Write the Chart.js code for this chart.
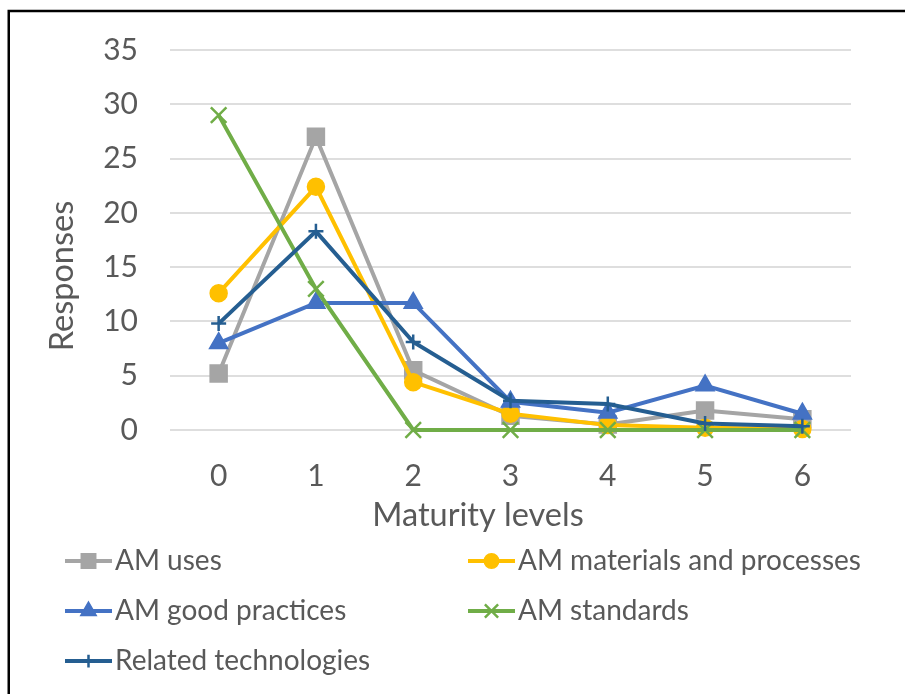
<!DOCTYPE html>
<html>
<head>
<meta charset="utf-8">
<script src="https://cdn.jsdelivr.net/npm/chart.js@4.4.1/dist/chart.umd.min.js"></script>
<style>
  html, body { margin: 0; padding: 0; background: #ffffff; }
  canvas { display: block; }
</style>
</head>
<body>
<canvas id="chart" width="905" height="694"></canvas>
<script>
// Maturity levels on the x axis
const maturityLevels = ['0', '1', '2', '3', '4', '5', '6'];

// Responses per maturity level, one array per topic
const amUses          = [5.2, 27.0, 5.5, 1.3, 0.5, 1.8, 1.0];
const amMaterials     = [12.6, 22.4, 4.4, 1.5, 0.45, 0.2, 0.1];
const amGoodPractices = [8.0, 11.7, 11.7, 2.6, 1.6, 4.1, 1.5];
const amStandards     = [29.0, 13.0, 0, 0, 0, 0, 0];
const relatedTech     = [9.8, 18.3, 8.1, 2.7, 2.4, 0.6, 0.35];

const seriesNames = ['AM uses', 'AM materials and processes', 'AM good practices', 'AM standards', 'Related technologies'];

// Response axis range
const yMin = 0;
const yMax = 35;
const yStep = 5;

const xAxisTitle = 'Maturity levels';
const yAxisTitle = 'Responses';

const FONT = 'Lato';
const TEXT = '#595959';

const seriesStyle = [
  { color: '#A5A5A5', pointStyle: 'rect',     radius: 12,   pbw: 1.5 },
  { color: '#FFC000', pointStyle: 'circle',   radius: 8.5,  pbw: 1.5 },
  { color: '#4472C4', pointStyle: 'triangle', radius: 10.5, pbw: 1.5 },
  { color: '#70AD47', pointStyle: 'crossRot', radius: 11,   pbw: 2.5 },
  { color: '#255E91', pointStyle: 'cross',    radius: 7.5,  pbw: 2.5 }
];
const seriesValues = [amUses, amMaterials, amGoodPractices, amStandards, relatedTech];

const datasets = seriesValues.map((values, i) => {
  const s = seriesStyle[i];
  return {
    label: seriesNames[i],
    data: values,
    borderColor: s.color,
    backgroundColor: s.color,
    borderWidth: 4,
    tension: 0,
    clip: false,
    pointStyle: s.pointStyle,
    pointRadius: s.radius,
    pointHoverRadius: s.radius,
    pointBackgroundColor: s.color,
    pointBorderColor: s.color,
    pointBorderWidth: s.pbw,
    // later series are painted over earlier ones
    order: seriesValues.length - i
  };
});

// Axis titles, the two-column legend below the axis, and the frame on the top and left edges
const legendAndFrame = {
  id: 'legendAndFrame',
  afterDraw(chart, args, opts) {
    const ctx = chart.ctx;
    ctx.save();
    // frame
    ctx.strokeStyle = '#000000';
    ctx.lineWidth = 2.5;
    ctx.beginPath();
    ctx.moveTo(8.75, 700);
    ctx.lineTo(8.75, 11);
    ctx.lineTo(910, 11);
    ctx.stroke();

    // axis titles
    ctx.fillStyle = TEXT;
    ctx.textAlign = 'center';
    ctx.textBaseline = 'middle';
    ctx.font = opts.titleSize + 'px ' + FONT;
    ctx.fillText(xAxisTitle, opts.xTitle[0], opts.xTitle[1]);
    ctx.save();
    ctx.translate(opts.yTitle[0], opts.yTitle[1]);
    ctx.rotate(-Math.PI / 2);
    ctx.fillText(yAxisTitle, 0, 0);
    ctx.restore();

    // legend entries
    chart.data.datasets.forEach((ds, i) => {
      const x0 = opts.columns[i % 2];
      const y = opts.rows[Math.floor(i / 2)];
      ctx.strokeStyle = ds.borderColor;
      ctx.lineWidth = 4;
      ctx.beginPath();
      ctx.moveTo(x0, y);
      ctx.lineTo(x0 + opts.sampleWidth, y);
      ctx.stroke();
      ctx.fillStyle = ds.pointBackgroundColor;
      ctx.strokeStyle = ds.pointBorderColor;
      ctx.lineWidth = ds.pointBorderWidth;
      Chart.helpers.drawPoint(ctx, {
        pointStyle: ds.pointStyle,
        radius: ds.pointRadius * 0.85,
        rotation: 0,
        borderWidth: ds.pointBorderWidth
      }, x0 + opts.sampleWidth / 2, y);
      ctx.fillStyle = TEXT;
      ctx.font = opts.fontSize + 'px ' + FONT;
      ctx.textAlign = 'left';
      ctx.textBaseline = 'middle';
      ctx.fillText(ds.label, x0 + opts.sampleWidth + opts.textGap, y);
    });
    ctx.restore();
  }
};

function draw() {
  new Chart(document.getElementById('chart'), {
    type: 'line',
    data: { labels: maturityLevels, datasets },
    plugins: [legendAndFrame],
    options: {
      responsive: false,
      animation: false,
      events: [],
      layout: { padding: { top: 47, right: 54, bottom: 154, left: 0 } },
      plugins: {
        legend: { display: false },
        tooltip: { enabled: false },
        legendAndFrame: {
          columns: [65, 468],
          rows: [561, 611, 661],
          sampleWidth: 47,
          textGap: 3,
          fontSize: 28,
          titleSize: 32.5,
          xTitle: [478, 516],
          yTitle: [63, 276]
        }
      },
      scales: {
        x: {
          type: 'category',
          offset: true,
          grid: { display: false, drawTicks: false },
          border: { display: false },
          ticks: { color: TEXT, font: { family: FONT, size: 30 }, padding: 28, maxRotation: 0 },
          afterFit(scale) { scale.height = 110; }
        },
        y: {
          min: yMin,
          max: yMax,
          grid: { color: '#DEDEDE', lineWidth: 2, drawTicks: false },
          border: { display: false },
          ticks: { stepSize: yStep, color: TEXT, font: { family: FONT, size: 30 }, padding: 32 },
          afterFit(scale) { scale.width = 170; }
        }
      }
    }
  });
}

if (document.fonts && document.fonts.load) {
  Promise.all([
    document.fonts.load('30px ' + FONT),
    document.fonts.load('28px ' + FONT)
  ]).then(draw, draw);
} else {
  draw();
}
</script>
</body>
</html>
